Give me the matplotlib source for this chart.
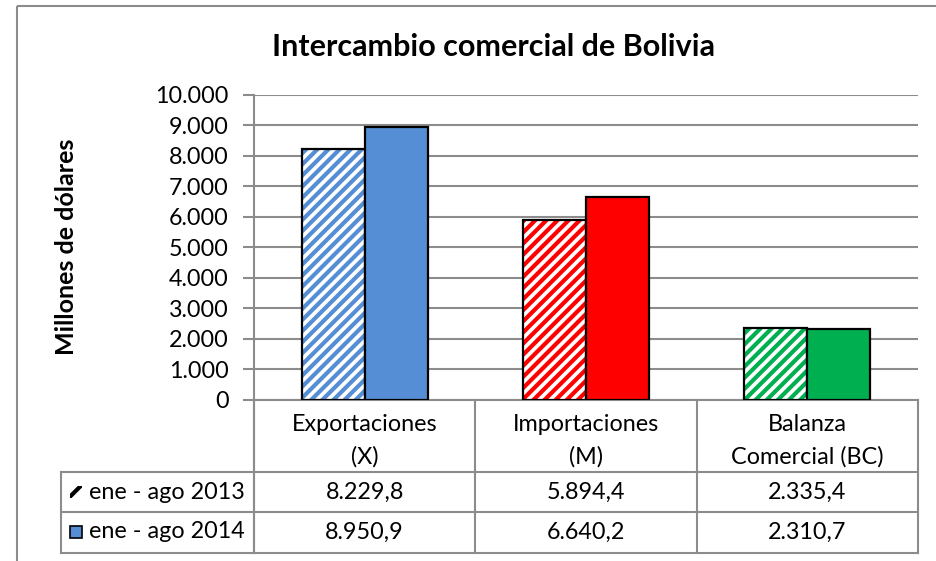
import matplotlib
matplotlib.use("Agg")
import matplotlib.pyplot as plt
import matplotlib.transforms as mtransforms
from matplotlib.patches import Rectangle
import numpy as np

# data
categories = ["Exportaciones\n(X)", "Importaciones\n(M)", "Balanza\nComercial (BC)"]
series_names = ["ene - ago 2013", "ene - ago 2014"]
values_2013 = [8229.8, 5894.4, 2335.4]
values_2014 = [8950.9, 6640.2, 2310.7]
table_2013 = ["8.229,8", "5.894,4", "2.335,4"]
table_2014 = ["8.950,9", "6.640,2", "2.310,7"]
colors = ["#558ED5", "#FF0000", "#00B050"]
yticks = [0, 1000, 2000, 3000, 4000, 5000, 6000, 7000, 8000, 9000, 10000]
ytick_labels = ["0", "1.000", "2.000", "3.000", "4.000", "5.000",
                "6.000", "7.000", "8.000", "9.000", "10.000"]

plt.rcParams["font.family"] = ["Lato", "DejaVu Sans"]
plt.rcParams["hatch.linewidth"] = 3.0

W, H = 936, 561
grid_c = "#8C8C8C"
fs = 16.8
fig = plt.figure(figsize=(W / 100, H / 100), dpi=100)

# pixel overlay for frame, table and titles
fr = fig.add_axes([0, 0, 1, 1])
fr.set_xlim(0, W)
fr.set_ylim(H, 0)
fr.axis("off")

# plot area in pixels
x0, x1, ytop, ybot = 254, 918, 94.6, 399.6
ax = fig.add_axes([x0 / W, (H - ybot) / H, (x1 - x0) / W, (ybot - ytop) / H])
ax.set_zorder(2)
ax.patch.set_alpha(0)

x = np.arange(len(categories))
bw = 0.285
for i in range(len(categories)):
    # hatched 2013 bar: colored stripes on white, black outline
    ax.bar(x[i] - bw / 2, values_2013[i], bw, color="white", edgecolor=colors[i],
           hatch="///", linewidth=0, zorder=3)
    ax.bar(x[i] - bw / 2, values_2013[i], bw, fill=False, edgecolor="black",
           linewidth=1.6, zorder=4)
    ax.bar(x[i] + bw / 2, values_2014[i], bw, color=colors[i], edgecolor="black",
           linewidth=1.6, zorder=4)

ax.set_xlim(-0.5, len(categories) - 0.5)
ax.set_ylim(0, 10000)
ax.set_yticks(yticks)
ax.set_yticklabels(ytick_labels, fontsize=fs)
ax.set_xticks([])
ax.yaxis.grid(True, color=grid_c, linewidth=1.5)
ax.set_axisbelow(True)
for s in ["top", "right", "bottom"]:
    ax.spines[s].set_visible(False)
ax.spines["left"].set_color(grid_c)
ax.spines["left"].set_linewidth(1.5)
ax.tick_params(axis="y", length=8, width=1.5, color=grid_c, pad=10)

# outer chart frame (cropped at right and bottom)
fr.add_patch(Rectangle((17, 5.7), W, H, fill=False, edgecolor=grid_c, linewidth=1.5))

fr.text(494, 47, "Intercambio comercial de Bolivia", ha="center", va="center",
        fontsize=22, fontweight="bold")
fr.text(67, 247, "Millones de dólares", ha="center", va="center", rotation=90,
        fontsize=18, fontweight="bold")

# data table under the axis
bt = mtransforms.blended_transform_factory(ax.transData, fr.transData)
row_top, row_mid, row_bot = 471.5, 511.7, 552.5
lw = 1.5
fr.plot([x0, x1], [ybot, ybot], color=grid_c, lw=lw)
for y in [row_top, row_mid, row_bot]:
    fr.plot([61, x1], [y, y], color=grid_c, lw=lw)
fr.plot([61, 61], [row_top, row_bot], color=grid_c, lw=lw)
fr.plot([x0, x0], [ybot, row_bot], color=grid_c, lw=lw)
for b in np.arange(len(categories) + 1) - 0.5:
    ax.plot([b, b], [ybot, row_bot], color=grid_c, lw=lw, transform=bt, clip_on=False)

for i in range(len(categories)):
    ax.text(x[i], 441, categories[i], transform=bt, ha="center", va="center",
            fontsize=fs, linespacing=1.65)
    ax.text(x[i], 492, table_2013[i], transform=bt, ha="center", va="center", fontsize=fs)
    ax.text(x[i], 532, table_2014[i], transform=bt, ha="center", va="center", fontsize=fs)

# row labels with legend keys
fr.add_patch(Rectangle((70, 486), 12, 12, facecolor="white", edgecolor="black",
                       hatch="//", linewidth=0))
fr.add_patch(Rectangle((70, 526), 12, 12, facecolor=colors[0], edgecolor="black",
                       linewidth=1.2))
fr.text(89, 492, series_names[0], ha="left", va="center", fontsize=fs)
fr.text(89, 532, series_names[1], ha="left", va="center", fontsize=fs)

fig.savefig("out.png", dpi=100)
